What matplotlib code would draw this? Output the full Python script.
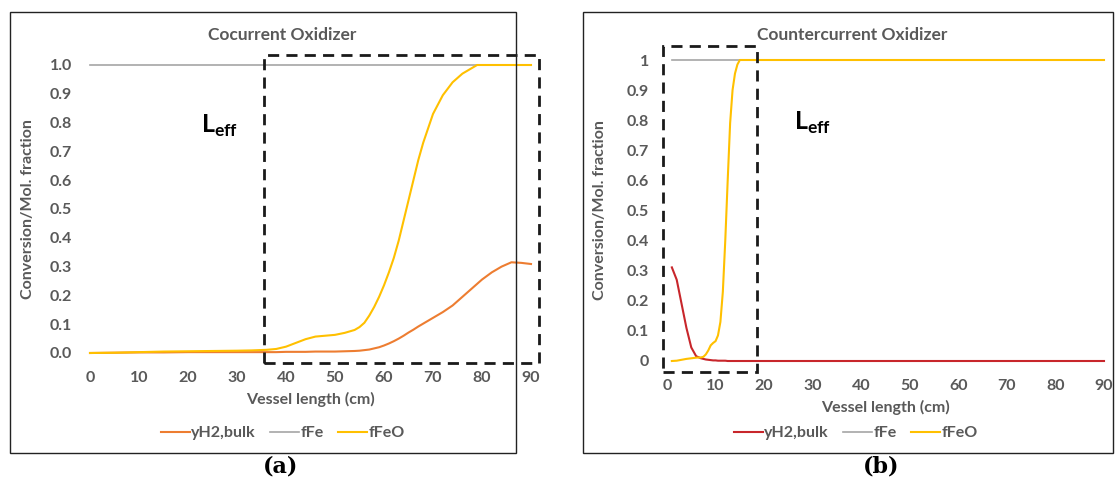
import matplotlib
matplotlib.use("Agg")
import matplotlib.pyplot as plt
from matplotlib.patches import Rectangle

# ---- data ----
# (a) cocurrent oxidizer
x_a = [0, 5, 10, 15, 20, 25, 30, 33, 36, 38, 40, 42, 44, 46, 48, 50, 52, 54, 55, 56,
       57, 58, 59, 60, 61, 62, 63, 64, 65, 66, 67, 68, 69, 70, 72, 74, 76, 78, 79, 80,
       82, 84, 86, 88, 90]
fFeO_a = [0.0, 0.001, 0.003, 0.005, 0.006, 0.007, 0.008, 0.009, 0.011, 0.014, 0.022, 0.035,
          0.048, 0.057, 0.060, 0.063, 0.070, 0.080, 0.090, 0.105, 0.130, 0.160, 0.195, 0.235,
          0.28, 0.33, 0.39, 0.46, 0.53, 0.60, 0.67, 0.73, 0.78, 0.83, 0.895, 0.94, 0.97, 0.99,
          1.0, 1.0, 1.0, 1.0, 1.0, 1.0, 1.0]
yH2_a = [0.0, 0.001, 0.002, 0.002, 0.003, 0.003, 0.003, 0.003, 0.003, 0.003, 0.004, 0.004,
         0.004, 0.005, 0.005, 0.005, 0.006, 0.007, 0.008, 0.010, 0.012, 0.016, 0.020, 0.026,
         0.033, 0.041, 0.050, 0.060, 0.071, 0.081, 0.092, 0.102, 0.112, 0.122, 0.142, 0.165,
         0.195, 0.225, 0.24, 0.255, 0.28, 0.30, 0.315, 0.313, 0.309]
fFe_a = [1.0] * len(x_a)

# (b) countercurrent oxidizer
x_b = [1, 2, 3, 4, 5, 6, 7, 7.5, 8, 8.5, 9, 9.5, 10, 10.5, 11, 11.5, 12, 12.5, 13, 13.5,
       14, 14.5, 15, 16, 18, 20, 30, 40, 50, 60, 70, 80, 90]
fFeO_b = [0.0, 0.001, 0.004, 0.007, 0.009, 0.011, 0.012, 0.014, 0.022, 0.035, 0.052, 0.060,
          0.066, 0.085, 0.13, 0.23, 0.40, 0.60, 0.79, 0.90, 0.955, 0.985, 1.0, 1.0, 1.0, 1.0,
          1.0, 1.0, 1.0, 1.0, 1.0, 1.0, 1.0]
yH2_b = [0.311, 0.27, 0.19, 0.11, 0.045, 0.016, 0.009, 0.007, 0.005, 0.004, 0.003, 0.002,
         0.002, 0.001, 0.001, 0.001, 0.001, 0.0, 0.0, 0.0, 0.0, 0.0, 0.0, 0.0, 0.0, 0.0,
         0.0, 0.0, 0.0, 0.0, 0.0, 0.0, 0.0]
fFe_b = [1.0] * len(x_b)

# dashed "L_eff" boxes in data units: (x0, x1, y0, y1)
box_a = (35.5, 91.6, -0.035, 1.035)
box_b = (-0.8, 18.5, -0.037, 1.047)

yticks_a = [0.0, 0.1, 0.2, 0.3, 0.4, 0.5, 0.6, 0.7, 0.8, 0.9, 1.0]
yticklabels_a = ["%.1f" % v for v in yticks_a]
yticks_b = yticks_a
yticklabels_b = ["0", "0.1", "0.2", "0.3", "0.4", "0.5", "0.6", "0.7", "0.8", "0.9", "1"]
xticks = [0, 10, 20, 30, 40, 50, 60, 70, 80, 90]

plt.rcParams["font.family"] = ["Lato", "DejaVu Sans"]
plt.rcParams["mathtext.fontset"] = "custom"
plt.rcParams["mathtext.bf"] = "Lato:bold"
plt.rcParams["mathtext.rm"] = "Lato"

GRAY_TXT = "#595959"
C_FE = "#A5A5A5"
C_FEO = "#FFC000"
FS = 11.5

fig = plt.figure(figsize=(11.15, 4.87), dpi=100)

# outer frames around each panel
fig.patches.append(Rectangle((10 / 1115, 1 - 453 / 487), 506 / 1115, 441 / 487,
                             transform=fig.transFigure, fill=False, ec="#222222", lw=1.0))
fig.patches.append(Rectangle((583 / 1115, 1 - 453 / 487), 530 / 1115, 441 / 487,
                             transform=fig.transFigure, fill=False, ec="#222222", lw=1.0))


def draw_panel(ax, x, yh2, ffe, ffeo, h2_color, box, yticks, yticklabels, leff_xy):
    ax.plot(x, yh2, color=h2_color, lw=1.5, label="yH2,bulk", clip_on=False, zorder=3)
    ax.plot(x, ffe, color=C_FE, lw=1.2, label="fFe", clip_on=False, zorder=2)
    ax.plot(x, ffeo, color=C_FEO, lw=1.5, label="fFeO", clip_on=False, zorder=4)
    ax.set_xlim(0, 90)
    ax.set_ylim(0, 1.0)
    ax.set_xticks(xticks)
    ax.set_yticks(yticks)
    ax.set_yticklabels(yticklabels)
    ax.tick_params(length=0, labelsize=FS, labelcolor=GRAY_TXT)
    ax.tick_params(axis="x", pad=13)
    ax.tick_params(axis="y", pad=13)
    for lab in ax.get_xticklabels() + ax.get_yticklabels():
        lab.set_fontweight("bold")
    for s in ax.spines.values():
        s.set_visible(False)
    x0, x1, y0, y1 = box
    ax.add_patch(Rectangle((x0, y0), x1 - x0, y1 - y0, fill=False, ec="#1a1a1a",
                           lw=2.0, ls=(0, (4, 2.6)), clip_on=False, zorder=5))
    ax.text(leff_xy[0], leff_xy[1], r"$\mathbf{L}_{\mathbf{eff}}$", fontsize=18,
            ha="center", va="center", color="black")
    ax.set_xlabel("Vessel length (cm)", fontsize=FS, color=GRAY_TXT,
                  fontweight="bold", labelpad=5)
    ax.set_ylabel("Conversion/Mol. fraction", fontsize=FS, color=GRAY_TXT,
                  fontweight="bold")


ax_a = fig.add_axes([90 / 1115, 1 - 353 / 487, 441 / 1115, 288 / 487])
draw_panel(ax_a, x_a, yH2_a, fFe_a, fFeO_a, "#ED7D31", box_a, yticks_a, yticklabels_a,
           (26.5, 0.79))
ax_a.yaxis.set_label_coords(-0.125, 0.5)

ax_b = fig.add_axes([667 / 1115, 1 - 361 / 487, 437 / 1115, 301 / 487])
draw_panel(ax_b, x_b, yH2_b, fFe_b, fFeO_b, "#C8262B", box_b, yticks_b, yticklabels_b,
           (30.0, 0.79))
ax_b.yaxis.set_label_coords(-0.137, 0.5)

for ax, cx in ((ax_a, 283), (ax_b, 856)):
    leg = ax.legend(loc="center", bbox_to_anchor=(cx / 1115, 1 - 433 / 487),
                    bbox_transform=fig.transFigure, ncol=3, frameon=False,
                    handlelength=1.8, handletextpad=0.1, columnspacing=0.9,
                    prop={"size": FS, "weight": "bold"})
    for t in leg.get_texts():
        t.set_color(GRAY_TXT)

fig.text(282 / 1115, 1 - 35 / 487, "Cocurrent Oxidizer", ha="center", va="center",
         fontsize=12.5, fontweight="bold", color=GRAY_TXT)
fig.text(852 / 1115, 1 - 35 / 487, "Countercurrent Oxidizer", ha="center", va="center",
         fontsize=12.5, fontweight="bold", color=GRAY_TXT)

fig.text(281 / 1115, 1 - 467 / 487, "(a)", ha="center", va="center", fontsize=16,
         fontweight="bold", family=["DejaVu Serif"])
fig.text(881 / 1115, 1 - 467 / 487, "(b)", ha="center", va="center", fontsize=16,
         fontweight="bold", family=["DejaVu Serif"])

fig.savefig("out.png", dpi=100)
plt.close(fig)
